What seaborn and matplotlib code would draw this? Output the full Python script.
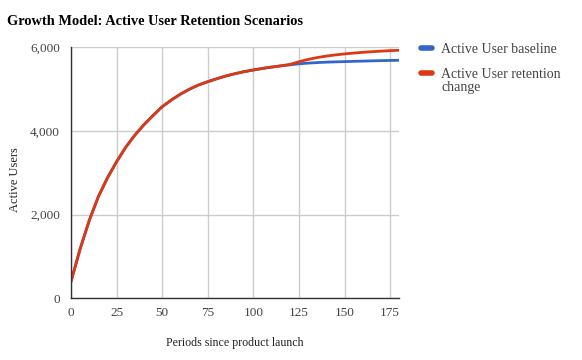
import matplotlib
matplotlib.use("Agg")
import matplotlib.pyplot as plt
import numpy as np
import pandas as pd
import seaborn as sns

# ── Data ─────────────────────────────────────────────────────────────────────
periods = list(range(0, 181, 5))

baseline = [
    400, 1180, 1860, 2430, 2880, 3266, 3610, 3900, 4150, 4370,
    4580, 4740, 4880, 5000, 5100, 5178, 5250, 5315, 5370, 5418,
    5458, 5495, 5527, 5556, 5580, 5605, 5622, 5635, 5645, 5652,
    5658, 5664, 5670, 5676, 5681, 5686, 5690,
]

retention_change = [
    400, 1180, 1860, 2430, 2880, 3266, 3610, 3900, 4150, 4370,
    4580, 4740, 4880, 5000, 5100, 5178, 5250, 5315, 5370, 5418,
    5458, 5495, 5527, 5556, 5590, 5655, 5710, 5755, 5790, 5818,
    5842, 5862, 5880, 5895, 5908, 5920, 5929,
]

series_names = ["Active User baseline", "Active User retention\nchange"]
series_colors = ["#3366cc", "#dc3912"]

x_ticks = [0, 25, 50, 75, 100, 125, 150, 175]
y_ticks = [0, 2000, 4000, 6000]

df = pd.concat([
    pd.DataFrame({"period": periods, "users": baseline, "series": series_names[0]}),
    pd.DataFrame({"period": periods, "users": retention_change, "series": series_names[1]}),
])

# ── Figure ───────────────────────────────────────────────────────────────────
sns.set_theme(style="white")
plt.rcParams["font.family"] = ["Liberation Serif", "DejaVu Serif"]

fig = plt.figure(figsize=(5.82, 3.6), dpi=100)
ax = fig.add_axes([0.122, 0.1714, 0.564, 0.6972])

sns.lineplot(
    data=df, x="period", y="users", hue="series",
    palette=dict(zip(series_names, series_colors)),
    linewidth=2.0, ax=ax, legend=False,
)

ax.set_xlim(0, 180)
ax.set_ylim(0, 6000)
ax.set_xticks(x_ticks)
ax.set_yticks(y_ticks)
ax.set_yticklabels([f"{v:,}" for v in y_ticks])
ax.tick_params(axis="both", length=0, labelsize=9.5, colors="#444444")
ax.tick_params(axis="x", pad=6)
ax.tick_params(axis="y", pad=8)

ax.grid(True, color="#cccccc", linewidth=1)
ax.set_axisbelow(True)
for side in ["top", "right"]:
    ax.spines[side].set_visible(False)
for side in ["left", "bottom"]:
    ax.spines[side].set_color("#333333")
    ax.spines[side].set_linewidth(1)

ax.set_xlabel("Periods since product launch", fontsize=8.6, color="#222222", labelpad=13)
ax.set_ylabel("Active Users", fontsize=9, color="#222222")
ax.yaxis.set_label_coords(-0.152, 0.475)

fig.text(0.012, 0.94, "Growth Model: Active User Retention Scenarios",
         fontsize=10.4, fontweight="bold", color="#000000", ha="left", va="center")

# legend drawn by hand to the right of the plot, marker beside the first line
legend_rows = [0.8667, 0.798]
for name, color, y in zip(series_names, series_colors, legend_rows):
    fig.add_artist(plt.Line2D([0.7235, 0.742], [y, y], color=color, linewidth=4,
                              solid_capstyle="round", transform=fig.transFigure))
    fig.text(0.758, y + 0.0125, name, fontsize=10, color="#444444",
             ha="left", va="top", linespacing=0.95)

plt.savefig("out.png", dpi=100)
plt.close()
